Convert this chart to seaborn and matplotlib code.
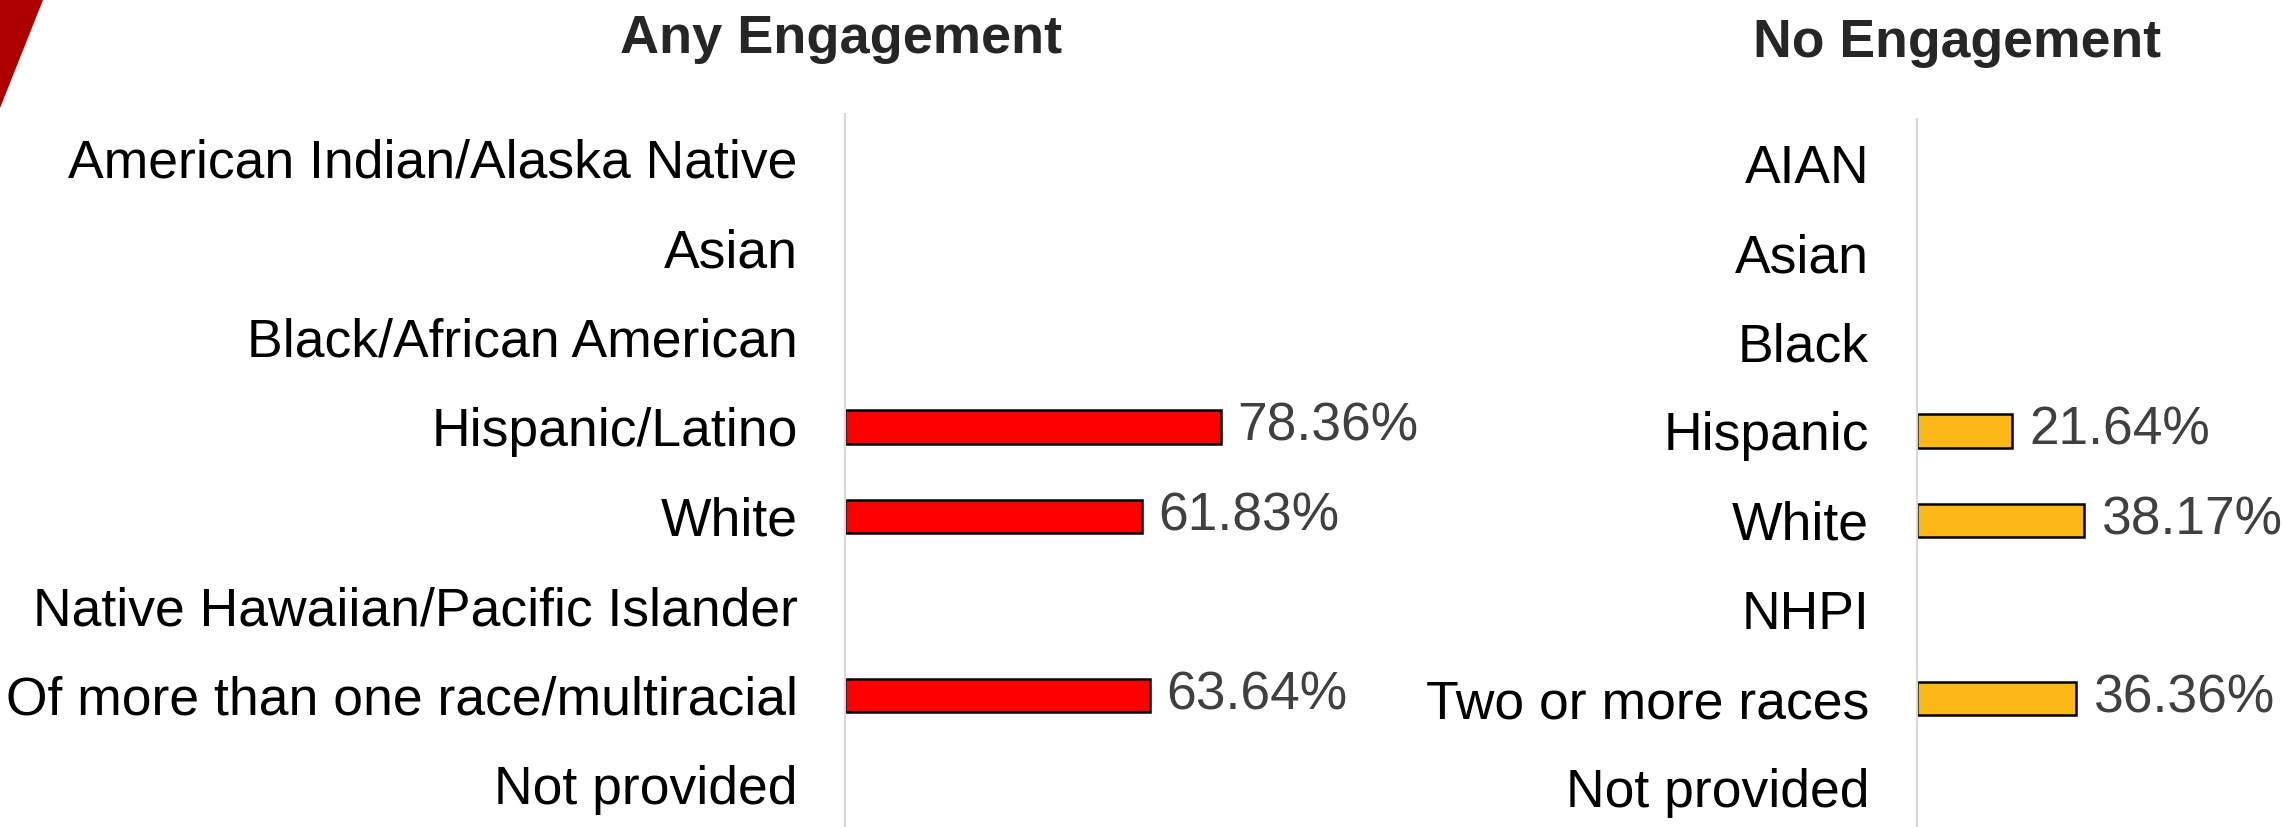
import numpy as np
import pandas as pd
import matplotlib
matplotlib.use("Agg")
import matplotlib.pyplot as plt
from matplotlib.patches import Polygon
import seaborn as sns

# ---- data ----
cats_any = ["American Indian/Alaska Native", "Asian", "Black/African American",
            "Hispanic/Latino", "White", "Native Hawaiian/Pacific Islander",
            "Of more than one race/multiracial", "Not provided"]
vals_any = [None, None, None, 78.36, 61.83, None, 63.64, None]

cats_no = ["AIAN", "Asian", "Black", "Hispanic", "White", "NHPI",
           "Two or more races", "Not provided"]
vals_no = [None, None, None, 21.64, 38.17, None, 36.36, None]

title_any = "Any Engagement"
title_no = "No Engagement"

# ---- style ----
sns.set_style("white")
plt.rcParams["font.family"] = ["Liberation Sans", "DejaVu Sans"]

W, H = 2284, 827
fig = plt.figure(figsize=(W / 100, H / 100), dpi=100)


def rect(x0, top, w, h):
    return [x0 / W, 1 - (top + h) / H, w / W, h / H]


ax1 = fig.add_axes(rect(845, 113.7, 480, 716))
ax2 = fig.add_axes(rect(1917, 118.8, 367, 713.6))


def panel(ax, cats, vals, color, xmax, pad, vpad):
    df = pd.DataFrame({"category": cats, "value": vals}).dropna()
    sns.barplot(data=df, x="value", y="category", order=cats, color=color,
                edgecolor="black", linewidth=1.8, width=0.37, orient="h",
                saturation=1, ax=ax)
    ax.set_xlim(0, xmax)
    ax.set_ylim(len(cats) - 0.5, -0.5)
    ax.set_xlabel("")
    ax.set_ylabel("")
    ax.set_xticks([])
    for s in ["top", "right", "bottom"]:
        ax.spines[s].set_visible(False)
    ax.spines["left"].set_color("#D9D9D9")
    ax.spines["left"].set_linewidth(1.6)
    ax.tick_params(axis="y", length=0, pad=pad, labelsize=38.5, labelcolor="black")
    for cont in ax.containers:
        ax.bar_label(cont, labels=[f"{v:.2f}%" for v in df["value"]],
                     padding=vpad, fontsize=38.3, color="#404040")


panel(ax1, cats_any, vals_any, "#FF0000", 100, 34, 11.5)
panel(ax2, cats_no, vals_no, "#FCB817", 83.8, 34.5, 13)

fig.text(841 / W, 1 - 53 / H, title_any, ha="center", va="baseline",
         fontsize=39, fontweight="bold")
fig.text(1957 / W, 1 - 57 / H, title_no, ha="center", va="baseline",
         fontsize=38.5, fontweight="bold")

# decorative corner triangle
fig.patches.append(Polygon([[0, 1], [43 / W, 1], [0, 1 - 108 / H]],
                           closed=True, transform=fig.transFigure,
                           facecolor="#AF0000", edgecolor="none"))

fig.savefig("out.png", dpi=100)
